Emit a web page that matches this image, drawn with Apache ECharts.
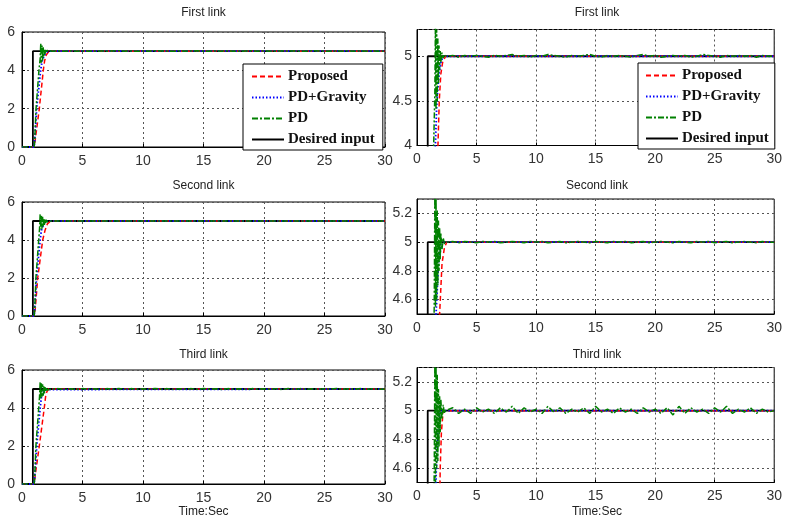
<!DOCTYPE html>
<html><head><meta charset="utf-8">
<script src="https://cdn.jsdelivr.net/npm/echarts@6/dist/echarts.min.js"></script>
<style>html,body{margin:0;padding:0;background:#fff}#c{width:785px;height:521px}</style>
</head><body><div id="c"></div>
<script>
// ---------- data ----------
const linkTitles = ['First link', 'Second link', 'Third link'];
const seriesNames = ['Proposed', 'PD+Gravity', 'PD', 'Desired input'];
const xLabel = 'Time:Sec';

const desiredT = [0, 0.9, 0.9, 30];
const desiredY = [0, 0, 5, 5];

const tSteady = [2.5,3,3.5,4,4.5,5,5.5,6,6.5,7,7.5,8,8.5,9,9.5,10,10.5,11,11.5,12,12.5,13,13.5,14,14.5,15,15.5,16,16.5,17,17.5,18,18.5,19,19.5,20,20.5,21,21.5,22,22.5,23,23.5,24,24.5,25,25.5,26,26.5,27,27.5,28,28.5,29,29.5,30];

// Link 1
const prop1T = [0,1.0,1.1,1.43,1.76,1.87,2.0,2.15,2.4];
const prop1Y = [0,0,0.4,2,4,4.5,4.8,4.93,5];
const grav1T = [0,1.0,1.05,1.21,1.54,1.67,1.85,2.0,2.2];
const grav1Y = [0,0,0.3,2,4,4.5,4.8,4.93,5];
const pd1T = [0,1.0,1.05,1.16,1.4,1.5,1.55,1.6,1.65,1.7,1.75,1.8,1.85,1.9,1.95,2.0,2.1,2.2,2.3,2.4];
const pd1Y = [0,0,0.3,2,4,4.6,5.4,4.4,5.3,4.5,5.2,4.7,5.12,4.85,5.07,4.93,5.04,4.98,5.02,5.0];
const pd1Steady = [5.00,5.01,4.99,5.01,5.00,5.01,5.00,4.99,5.01,5.00,
  5.01,5.02,5.00,5.01,4.99,5.01,5.00,5.02,5.01,5.00,
  4.99,5.01,5.00,5.01,5.02,5.00,4.99,5.01,5.00,5.01,
  5.00,4.99,5.01,5.02,5.00,5.01,4.99,5.00,5.01,5.00,
  5.01,4.99,5.00,5.02,5.01,5.00,4.99,5.01,5.00,5.01,
  5.00,5.01,4.99,5.01,5.00,5.00];

// Link 2
const prop2T = [0,1.0,1.1,1.3,1.71,1.9,2.1,2.3,2.5];
const prop2Y = [0,0,0.4,2,4,4.5,4.85,4.96,5];
const grav2T = [0,1.0,1.05,1.2,1.5,1.6,1.8,2.0,2.2];
const grav2Y = [0,0,0.3,2,4,4.5,4.85,4.96,5];
const pd2T = [0,1.0,1.05,1.15,1.38,1.45,1.5,1.55,1.6,1.65,1.7,1.75,1.8,1.85,1.9,1.95,2.0,2.1,2.2,2.3,2.4];
const pd2Y = [0,0,0.3,2,4,4.6,5.35,4.55,5.3,4.6,5.22,4.7,5.15,4.8,5.1,4.88,5.06,4.95,5.03,4.99,5.0];
const pd2Steady = [5.000,5.005,4.995,5.005,5.000,4.995,5.005,5.000,5.005,4.995,
  5.000,5.005,5.000,4.995,5.005,5.000,5.005,4.995,5.000,5.005,
  4.995,5.000,5.005,5.000,4.995,5.005,5.000,4.995,5.005,5.000,
  5.005,4.995,5.000,5.005,4.995,5.000,5.005,5.000,4.995,5.005,
  5.000,4.995,5.005,5.000,5.005,4.995,5.000,5.005,4.995,5.000,
  5.005,5.000,4.995,5.005,5.000,5.000];

// Link 3
const prop3T = [0,1.0,1.1,1.43,1.84,1.95,2.05,2.2];
const prop3Y = [0,0,0.5,2,4,4.6,4.85,5];
const grav3T = [0,1.0,1.05,1.22,1.5,1.6,1.75,1.9,2.0];
const grav3Y = [0,0,0.3,2,4,4.55,4.85,4.97,5];
const pd3T = [0,1.0,1.05,1.15,1.38,1.45,1.5,1.55,1.6,1.65,1.7,1.75,1.8,1.85,1.9,1.95,2.0,2.1,2.2,2.3,2.4];
const pd3Y = [0,0,0.3,2,4,4.6,5.35,4.5,5.3,4.6,5.25,4.65,5.15,4.75,5.1,4.85,5.08,4.94,5.04,4.98,5.0];
const pd3Steady = [5.00,5.02,4.98,5.01,4.98,5.02,4.99,5.01,4.98,5.02,
  4.99,5.03,4.98,5.02,4.99,5.01,4.98,5.03,4.99,5.02,
  4.98,5.01,4.99,5.02,4.98,5.03,4.99,5.01,4.98,5.02,
  4.99,5.01,4.98,5.02,4.99,5.01,4.98,5.02,4.97,5.03,
  4.98,5.02,4.99,5.01,4.98,5.02,4.99,5.03,4.98,5.01,
  4.99,5.02,4.98,5.01,4.99,5.00];

// ---------- build ----------
function pairs(ts, ys) { return ts.map((t, i) => [t, ys[i]]); }
const links = [
  { prop: pairs(prop1T, prop1Y).concat([[30, 5]]), grav: pairs(grav1T, grav1Y).concat([[30, 5]]), pd: pairs(pd1T, pd1Y).concat(pairs(tSteady, pd1Steady)) },
  { prop: pairs(prop2T, prop2Y).concat([[30, 5]]), grav: pairs(grav2T, grav2Y).concat([[30, 5]]), pd: pairs(pd2T, pd2Y).concat(pairs(tSteady, pd2Steady)) },
  { prop: pairs(prop3T, prop3Y).concat([[30, 5]]), grav: pairs(grav3T, grav3Y).concat([[30, 5]]), pd: pairs(pd3T, pd3Y).concat(pairs(tSteady, pd3Steady)) }
];
const desired = pairs(desiredT, desiredY);

const gridDefs = [
  { left: 22, top: 32, width: 363, height: 115 },
  { left: 417, top: 29.5, width: 360, height: 116 },
  { left: 22, top: 202, width: 363, height: 114 },
  { left: 417, top: 199, width: 360, height: 115 },
  { left: 22, top: 370, width: 363, height: 114 },
  { left: 417, top: 367.5, width: 360, height: 115 }
];

const sansFont = 'Liberation Sans, Arial, sans-serif';
const gridLine = { show: true, lineStyle: { color: '#555', type: [2, 3], width: 1 } };
const axisLabelBase = { color: '#333', fontSize: 14, fontFamily: sansFont };

const grids = gridDefs.map(g => Object.assign({ show: true, borderColor: '#000', borderWidth: 1, containLabel: false }, g));
const xAxes = gridDefs.map((g, i) => ({
  type: 'value', gridIndex: i, min: 0, max: 30, interval: 5,
  axisLine: { show: true, lineStyle: { color: '#000', width: 1 } },
  axisTick: { show: true, inside: true, length: 3, lineStyle: { color: '#000' } },
  axisLabel: Object.assign({ margin: 7 }, axisLabelBase),
  splitLine: gridLine
}));
const yAxes = gridDefs.map((g, i) => {
  const base = {
    type: 'value', gridIndex: i,
    axisLine: { show: true, lineStyle: { color: '#000', width: 1 } },
    axisTick: { show: true, inside: true, length: 3, lineStyle: { color: '#000' } },
    splitLine: gridLine
  };
  if (i % 2 === 0) {
    return Object.assign(base, { min: 0, max: 6, interval: 2, axisLabel: Object.assign({ margin: 7 }, axisLabelBase) });
  } else if (i === 1) {
    return Object.assign(base, { min: 4, max: 5.3, splitNumber: 3, axisLabel: Object.assign({ margin: 5, showMaxLabel: false }, axisLabelBase) });
  } else {
    return Object.assign(base, { min: 4.5, max: 5.3, splitNumber: 4, axisLabel: Object.assign({ margin: 5, showMinLabel: false, showMaxLabel: false }, axisLabelBase) });
  }
});

const styles = {
  'Proposed': { color: '#ff0000', width: 1.5, type: [5, 3] },
  'PD+Gravity': { color: '#0000ff', width: 1.8, type: [1.5, 2] },
  'PD': { color: '#008000', width: 1.5, type: [6, 2, 2, 2] },
  'Desired input': { color: '#000000', width: 1.8, type: 'solid' }
};

function mk(name, data, gi) {
  const s = styles[name];
  return {
    type: 'line', name: name, xAxisIndex: gi, yAxisIndex: gi, data: data,
    symbol: 'none', showSymbol: false, animation: false, clip: true,
    itemStyle: { color: s.color },
    lineStyle: { color: s.color, width: s.width, type: s.type }
  };
}

const series = [];
links.forEach((L, li) => {
  [2 * li, 2 * li + 1].forEach(gi => {
    series.push(mk('Desired input', desired, gi));
    series.push(mk('Proposed', L.prop, gi));
    series.push(mk('PD+Gravity', L.grav, gi));
    series.push(mk('PD', L.pd, gi));
  });
});

const legendBase = {
  data: seriesNames, orient: 'vertical', selectedMode: false,
  itemWidth: 32, itemHeight: 14, itemGap: 6,
  backgroundColor: '#fff', borderColor: '#000', borderWidth: 1, borderRadius: 0,
  z: 20,
  itemStyle: { color: 'rgba(0,0,0,0)', borderWidth: 0, opacity: 0 },
  textStyle: { fontFamily: 'Liberation Serif, Times New Roman, serif', fontWeight: 'bold', fontSize: 15, color: '#111', padding: [0, 0, 0, -1] }
};
const legends = [
  Object.assign({}, legendBase, { left: 243, top: 64, padding: [5, 8, 3, 8] }),
  Object.assign({}, legendBase, { left: 638, top: 63, padding: [5, 6, 3, 7] })
];

const textEls = [];
const rowTitleY = [13, 186, 355];
linkTitles.forEach((t, r) => {
  [203.5, 597].forEach(cx => {
    textEls.push({ type: 'text', x: cx, y: rowTitleY[r], style: { text: t, fill: '#222', font: '12px ' + sansFont, textAlign: 'center', textVerticalAlign: 'middle' } });
  });
});
[203.5, 597].forEach(cx => {
  textEls.push({ type: 'text', x: cx, y: 512, style: { text: xLabel, fill: '#222', font: '12px ' + sansFont, textAlign: 'center', textVerticalAlign: 'middle' } });
});

const chart = echarts.init(document.getElementById('c'), null, { renderer: 'canvas' });
chart.setOption({
  backgroundColor: '#fff',
  animation: false,
  grid: grids, xAxis: xAxes, yAxis: yAxes,
  legend: legends,
  series: series,
  graphic: textEls
});
</script>
</body></html>
